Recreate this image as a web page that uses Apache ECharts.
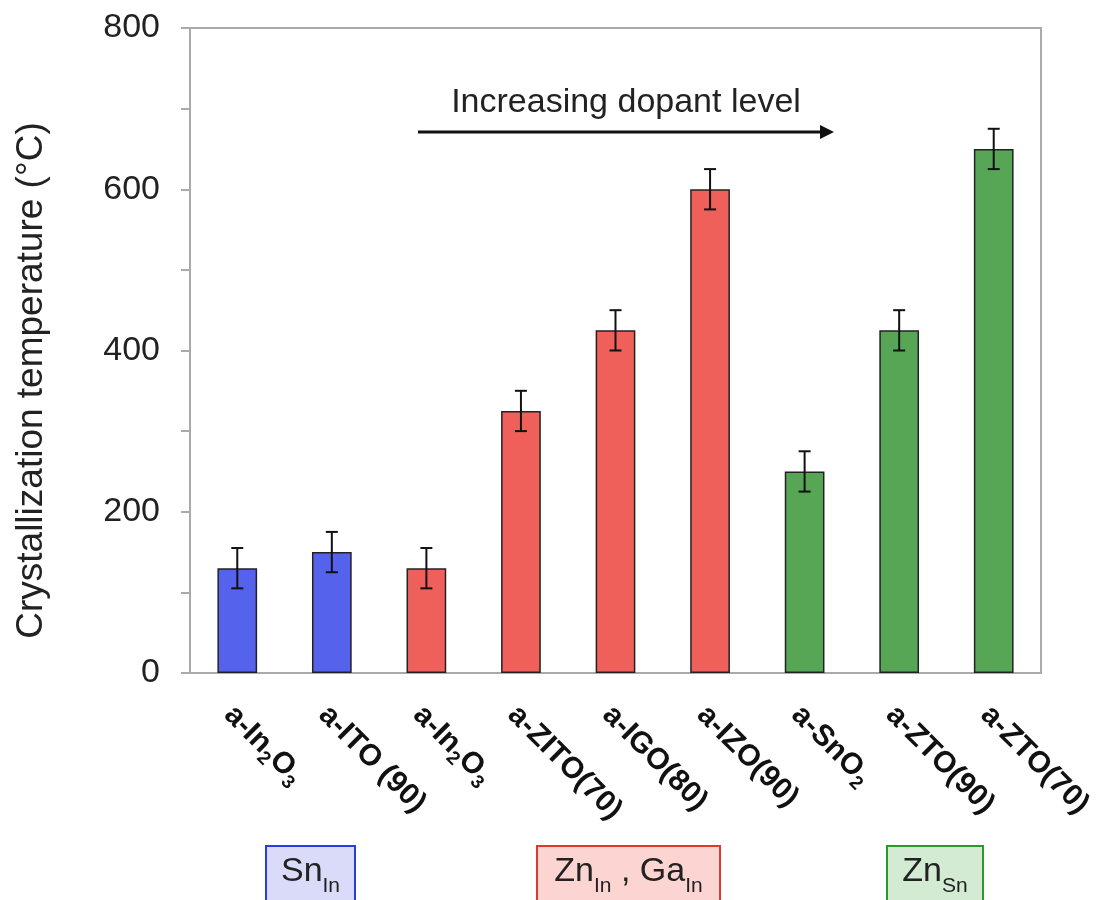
<!DOCTYPE html>
<html>
<head>
<meta charset="utf-8">
<script src="https://cdn.jsdelivr.net/npm/echarts@6/dist/echarts.min.js"></script>
<style>html,body{margin:0;padding:0;background:#fff}#c{width:1106px;height:900px}</style>
</head>
<body>
<div id="c"></div>
<script>
// ---- data ----
const categories = ['a-In{s|2}O{s|3}', 'a-ITO (90)', 'a-In{s|2}O{s|3}', 'a-ZITO(70)', 'a-IGO(80)', 'a-IZO(90)', 'a-SnO{s|2}', 'a-ZTO(90)', 'a-ZTO(70)'];
const temps = [130, 150, 130, 325, 425, 600, 250, 425, 650];
const errors = [25, 25, 25, 25, 25, 25, 25, 25, 25];
const dopantGroup = ['Sn', 'Sn', 'Zn', 'Zn', 'Zn', 'Zn', 'ZnSn', 'ZnSn', 'ZnSn'];
const yTicks = [0, 200, 400, 600, 800];

const groupColors = { Sn: '#5563ec', Zn: '#f0605b', ZnSn: '#56a656' };

const chart = echarts.init(document.getElementById('c'), null, { renderer: 'canvas' });
const FONT = '"Liberation Sans", Arial, Helvetica, sans-serif';

const barData = temps.map((v, i) => ({
  value: v,
  itemStyle: { color: groupColors[dopantGroup[i]] }
}));
const errData = temps.map((v, i) => [i, v - errors[i], v + errors[i]]);

function boxGroup(x, y, w, h, fill, stroke, text) {
  return {
    type: 'group', x: x, y: y,
    children: [
      { type: 'rect', shape: { x: 0, y: 0, width: w, height: h }, style: { fill: fill, stroke: stroke, lineWidth: 2 } },
      { type: 'text', x: w / 2, y: 30, style: {
          text: text, align: 'center', verticalAlign: 'middle',
          fontFamily: FONT, fontSize: 34, fill: '#222',
          rich: {
            m: { fontFamily: FONT, fontSize: 34, lineHeight: 42, verticalAlign: 'top', fill: '#222' },
            s: { fontFamily: FONT, fontSize: 21, lineHeight: 21, verticalAlign: 'bottom', fill: '#222' }
          }
        } }
    ]
  };
}

chart.setOption({
  animation: false,
  backgroundColor: '#fff',
  grid: { left: 190, right: 65, top: 28, bottom: 227, outerBoundsMode: 'none', containLabel: false, show: true, borderColor: '#aaa', borderWidth: 2, backgroundColor: 'transparent' },
  xAxis: {
    type: 'category',
    data: categories,
    axisLine: { lineStyle: { color: '#aaa', width: 2 } },
    axisTick: { show: false },
    axisLabel: {
      interval: 0, rotate: -45, margin: 29, padding: [24, 0, 0, 0],
      fontFamily: FONT, fontSize: 30, fontWeight: 'bold', color: '#111', lineHeight: 38,
      rich: {
        s: { fontFamily: FONT, fontSize: 19, fontWeight: 'bold', lineHeight: 19, verticalAlign: 'bottom', color: '#111' }
      }
    }
  },
  yAxis: {
    type: 'value', min: yTicks[0], max: yTicks[yTicks.length - 1], interval: 200,
    name: 'Crystallization temperature (°C)', nameLocation: 'middle', nameGap: 140,
    nameTextStyle: { fontFamily: FONT, fontSize: 37, color: '#222', padding: [0, 60, 0, 0] },
    axisLine: { show: true, lineStyle: { color: '#aaa', width: 2 } },
    axisTick: { show: true, length: 9, lineStyle: { color: '#aaa', width: 2 } },
    minorTick: { show: true, splitNumber: 2, length: 9, lineStyle: { color: '#aaa', width: 2 } },
    splitLine: { show: false },
    axisLabel: { fontFamily: FONT, fontSize: 34, color: '#222', margin: 30 }
  },
  series: [
    {
      type: 'bar', data: barData, barWidth: '42%',
      itemStyle: { borderColor: '#222', borderWidth: 1.5 }
    },
    {
      type: 'custom', data: errData, z: 5,
      renderItem: function (params, api) {
        const x = api.value(0);
        const top = api.coord([x, api.value(2)]);
        const bot = api.coord([x, api.value(1)]);
        const c = 6;
        const st = { stroke: '#111', lineWidth: 2 };
        return {
          type: 'group',
          children: [
            { type: 'line', shape: { x1: top[0], y1: top[1], x2: bot[0], y2: bot[1] }, style: st },
            { type: 'line', shape: { x1: top[0] - c, y1: top[1], x2: top[0] + c, y2: top[1] }, style: st },
            { type: 'line', shape: { x1: bot[0] - c, y1: bot[1], x2: bot[0] + c, y2: bot[1] }, style: st }
          ]
        };
      }
    }
  ],
  graphic: [
    { type: 'text', x: 626, y: 103, style: { text: 'Increasing dopant level', align: 'center', verticalAlign: 'middle', fontFamily: FONT, fontSize: 34, fill: '#222' } },
    { type: 'line', shape: { x1: 418, y1: 132, x2: 822, y2: 132 }, style: { stroke: '#111', lineWidth: 3 } },
    { type: 'polygon', shape: { points: [[820, 125], [834, 132], [820, 139]] }, style: { fill: '#111' } },
    boxGroup(266, 846, 89, 70, '#d9dbf8', '#2a3ce0', '{m|Sn}{s|In}'),
    boxGroup(537, 846, 183, 70, '#fcd5d3', '#e0392f', '{m|Zn}{s|In}{m| , Ga}{s|In}'),
    boxGroup(887, 846, 96, 70, '#d2ebd2', '#2a9a2a', '{m|Zn}{s|Sn}')
  ]
});
</script>
</body>
</html>
